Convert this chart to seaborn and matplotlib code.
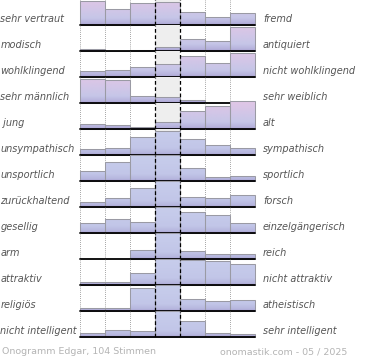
import numpy as np
import pandas as pd
import matplotlib
matplotlib.use("Agg")
import matplotlib.pyplot as plt
import seaborn as sns
from matplotlib.colors import LinearSegmentedColormap

# ---- data ----
left_labels = ["sehr vertraut", "modisch", "wohlklingend", "sehr männlich", " jung",
               "unsympathisch", "unsportlich", "zurückhaltend", "gesellig", "arm",
               "attraktiv", "religiös", "nicht intelligent"]
right_labels = ["fremd", "antiquiert", "nicht wohlklingend", "sehr weiblich", "alt",
                "sympathisch", "sportlich", "forsch", "einzelgängerisch", "reich",
                "nicht attraktiv", "atheistisch", "sehr intelligent"]
bins = [1, 2, 3, 4, 5, 6, 7]
v_vertraut = [24, 16, 22.3, 23.3, 13.3, 7.7, 12.3]
v_modisch = [1.7, 0.3, 1, 4.3, 11.7, 10.3, 24.3]
v_wohlklingend = [6.3, 7.3, 10, 13.3, 20.6, 14, 24]
v_maennlich = [24.3, 22.6, 6.6, 6.3, 2.6, 0, 0]
v_jung = [5, 4.3, 2, 6.6, 17.6, 22.6, 27.6]
v_sympathisch = [6, 7, 17.6, 24.3, 16, 10, 6.6]
v_sportlich = [10.3, 18.7, 26, 26, 13.3, 4.3, 5.3]
v_zurueck = [4.3, 8.7, 18.7, 26, 9.7, 8.3, 11.3]
v_gesellig = [10, 13.3, 10.6, 26, 20.6, 18, 9.3]
v_arm = [0, 0, 8.3, 26, 7.3, 5, 4.7]
v_attraktiv = [3, 2.5, 11.7, 26, 25, 23.3, 20.7]
v_religioes = [2.7, 2.7, 22.7, 26, 11.7, 9.7, 10.7]
v_intelligent = [3.7, 6.7, 6, 26, 15.3, 3.3, 3]
all_values = [v_vertraut, v_modisch, v_wohlklingend, v_maennlich, v_jung,
              v_sympathisch, v_sportlich, v_zurueck, v_gesellig, v_arm,
              v_attraktiv, v_religioes, v_intelligent]
footer_left = "Onogramm Edgar, 104 Stimmen"
footer_right = "onomastik.com - 05 / 2025"

sns.set_theme(style="white")
plt.rcParams['font.family'] = ['DejaVu Sans']

W, H = 370, 360
fig = plt.figure(figsize=(W / 100, H / 100), dpi=100)

pink_cmap = LinearSegmentedColormap.from_list(
    "pink", [(0.0, "#a69ecf"), (0.07, "#b6b2dc"), (0.25, "#c6c6e8"), (1.0, "#e2c6e6")])
blue_cmap = LinearSegmentedColormap.from_list(
    "blue", [(0.0, "#a69ecf"), (0.07, "#b6b6de"), (0.25, "#c2c6e8"), (1.0, "#c8ceec")])

ROW_H = 26.0
x0_px, x1_px = 80, 255
grad = np.linspace(0, 1, 200).reshape(-1, 1)

for i, vals in enumerate(all_values):
    base = 25 + 25.97 * i
    ax = fig.add_axes([x0_px / W, (H - base) / H, (x1_px - x0_px) / W, ROW_H / H])
    ax.set_facecolor("none")
    df = pd.DataFrame({"bin": bins, "val": vals})
    sns.barplot(data=df, x="bin", y="val", order=bins, width=1.0, ax=ax,
                color="#c6c8e8", edgecolor="#9a9aa4", linewidth=0.75,
                saturation=1, zorder=2)
    bars = list(ax.patches)
    cmap = pink_cmap if i < 5 else blue_cmap
    ax.set_xlim(-0.5, 6.5)
    ax.set_ylim(0, ROW_H)
    for p in bars:
        p.set_clip_on(False)
        bx, bw, bh = p.get_x(), p.get_width(), p.get_height()
        if bh <= 0:
            p.set_visible(False)
            continue
        im = ax.imshow(grad, extent=[bx, bx + bw, 0, ROW_H + 2], origin="lower",
                       cmap=cmap, aspect="auto", zorder=2.5, interpolation="bilinear")
        im.set_clip_box(None)
        im.set_clip_path(p)
        p.set_facecolor("none")
        p.set_zorder(3)
    ax.axvspan(2.5, 3.5, color="#eeeeee", zorder=0, lw=0)
    for xv in [-0.5, 0.5, 1.5, 4.5, 5.5, 6.5]:
        ax.axvline(xv, color="#888888", ls=(0, (1, 1.5)), lw=0.6, zorder=0.5)
    for xv in [2.5, 3.5]:
        ax.axvline(xv, color="black", ls=(0, (3, 2)), lw=0.9, zorder=4)
    ax.axhline(0, color="black", lw=1.3, zorder=5, clip_on=False)
    ax.set_xlim(-0.5, 6.5)
    ax.set_ylim(0, ROW_H)
    ax.set_xlabel("")
    ax.set_ylabel("")
    ax.set_xticks([])
    ax.set_yticks([])
    for s in ax.spines.values():
        s.set_visible(False)
    ty = (H - base + 5.5) / H
    fig.text(0.5 / W, ty, left_labels[i], ha="left", va="center",
             fontsize=7.0, style="italic", color="#555555")
    fig.text(263 / W, ty, right_labels[i], ha="left", va="center",
             fontsize=7.0, style="italic", color="#555555")

fig.text(2 / W, (H - 352) / H, footer_left, ha="left", va="center",
         fontsize=6.8, color="#b4b4b4")
fig.text(220 / W, (H - 352) / H, footer_right, ha="left", va="center",
         fontsize=6.8, color="#b4b4b4")

fig.savefig("out.png", dpi=100)
